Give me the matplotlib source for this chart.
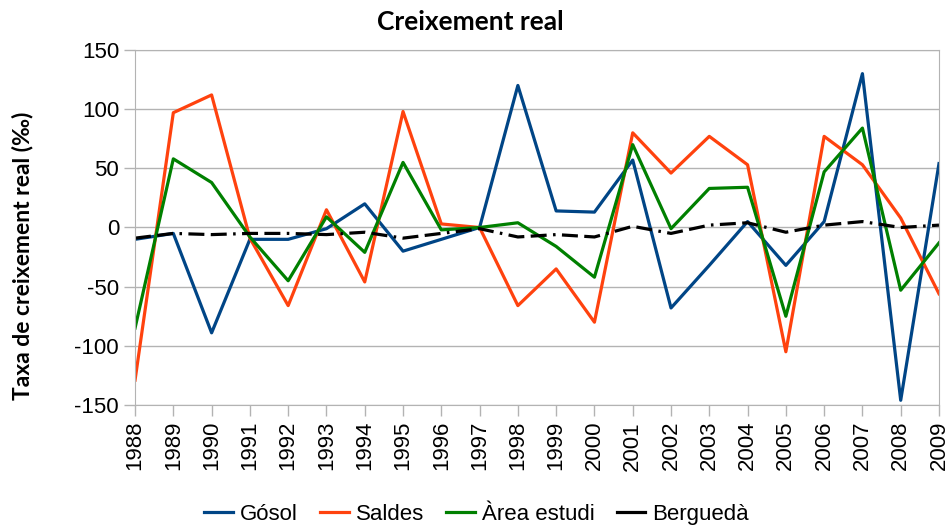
import matplotlib
matplotlib.use("Agg")
import matplotlib.pyplot as plt
from matplotlib.lines import Line2D

plt.rcParams["axes.unicode_minus"] = False

# anys i taxes de creixement real (per mil)
years = list(range(1988, 2010))
gosol = [-10, -5, -89, -10, -10, -1, 20, -20, -10, 0, 120, 14, 13, 57,
         -68, -32, 5, -32, 5, 130, -146, 54]
saldes = [-129, 97, 112, -9, -66, 15, -46, 98, 3, 0, -66, -35, -80, 80,
          46, 77, 53, -105, 77, 53, 8, -56]
area = [-85, 58, 38, -8, -45, 9, -21, 55, -2, 0, 4, -16, -42, 70,
        -1, 33, 34, -75, 47, 84, -53, -13]
bergueda = [-9, -5, -6, -5, -5, -6, -4, -9, -5, -1, -8, -6, -8, 1,
            -5, 2, 4, -4, 2, 5, 0, 2]

names = ["Gósol", "Saldes", "Àrea estudi", "Berguedà"]
colors = ["#004586", "#ff420e", "#008000", "black"]

fig = plt.figure(figsize=(9.53, 5.26), dpi=100)
ax = fig.add_axes([0.1417, 0.230, 0.8436, 0.675])

lw = 2.3
ax.plot(years, gosol, color=colors[0], lw=lw)
ax.plot(years, saldes, color=colors[1], lw=lw)
ax.plot(years, area, color=colors[2], lw=lw)
ax.plot(years, bergueda, color=colors[3], lw=lw, dashes=[5, 2, 5, 2, 0.8, 2])

ax.set_xlim(1988, 2009)
ax.set_ylim(-150, 150)
ax.set_yticks(range(-150, 151, 50))
ax.set_xticks(years)
ax.set_xticklabels([str(y) for y in years], rotation=90)
ax.tick_params(axis="both", labelsize=16, colors="#b3b3b3", labelcolor="black",
               length=8, width=1)
ax.yaxis.grid(True, color="#b3b3b3", lw=1)
ax.set_axisbelow(True)
for s in ax.spines.values():
    s.set_color("#b3b3b3")
for lbl in ax.get_xticklabels() + ax.get_yticklabels():
    lbl.set_family("Liberation Sans")

fig.text(0.493, 0.958, "Creixement real", fontsize=19, fontweight="bold",
         family="Lato", ha="center", va="center")
fig.text(0.024, 0.513, "Taxa de creixement real (‰)", fontsize=16.5,
         fontweight="bold", family=["Lato", "DejaVu Sans"], rotation=90,
         ha="center", va="center")

# legend keys are plain solid lines, as in the original
handles = [Line2D([], [], color=c, lw=lw) for c in colors]
fig.legend(handles, names, loc="center", bbox_to_anchor=(0.5, 0.022), ncol=4,
           frameon=False, prop={"family": "Liberation Sans", "size": 16},
           handlelength=1.3, handletextpad=0.3, columnspacing=1.0)

fig.savefig("out.png", dpi=100)
